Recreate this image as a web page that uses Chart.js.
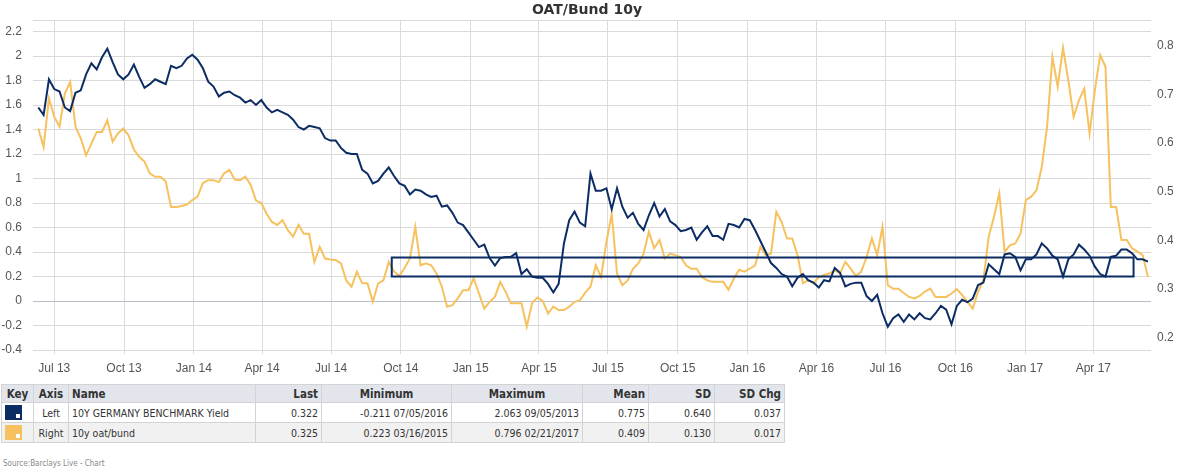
<!DOCTYPE html>
<html>
<head>
<meta charset="utf-8">
<title>OAT/Bund 10y</title>
<script src="https://cdn.jsdelivr.net/npm/chart.js@4.4.1/dist/chart.umd.min.js"></script>
<style>
  body { margin: 0; background: #fff; width: 1200px; height: 474px; overflow: hidden; position: relative; }
  #chart-wrap { position: absolute; left: 0; top: 0; width: 1200px; height: 376px; }
  #stats { position: absolute; left: 1px; top: 384px; border-collapse: collapse; table-layout: fixed;
           font-family: "DejaVu Sans Condensed", "DejaVu Sans", sans-serif; font-size: 10.5px; color: #333; }
  #stats th, #stats td { border: 1px solid #d3d3d3; padding: 0 3px; white-space: nowrap; overflow: hidden; }
  #stats th { background: #e2e5ec; font-weight: bold; font-size: 11.5px; height: 17px; text-align: right; }
  #stats td { height: 19px; text-align: right; }
  #stats tbody tr:nth-child(2) td { background: #f1f1f1; }
  #stats .c { text-align: center; }
  #stats .l { text-align: left; }
  .key { width: 17px; height: 15px; position: relative; }
  .key::after { content: ''; position: absolute; right: 2px; bottom: 2px; width: 4px; height: 4px; background: #fff; }
  #source { position: absolute; left: 3px; top: 459px; font-family: "DejaVu Sans Condensed", sans-serif; font-size: 8px; color: #888; }
</style>
</head>
<body>
<div id="chart-wrap"><canvas id="oatChart"></canvas></div>
<table id="stats">
  <colgroup>
    <col style="width:32px"><col style="width:35px"><col style="width:187px"><col style="width:66px">
    <col style="width:130px"><col style="width:131px"><col style="width:66px"><col style="width:66px"><col style="width:70px">
  </colgroup>
  <thead>
    <tr><th class="c">Key</th><th class="c">Axis</th><th class="l">Name</th><th>Last</th><th class="c">Minimum</th><th class="c">Maximum</th><th>Mean</th><th>SD</th><th>SD Chg</th></tr>
  </thead>
  <tbody id="stats-body"></tbody>
</table>
<div id="source">Source:Barclays Live - Chart</div>

<script>
// weekly observations, first one on this date
const startDate = '2013-06-10';

// 10Y Germany benchmark yield (left axis)
const bundYield = [
  1.58, 1.52, 1.81, 1.73, 1.71, 1.58, 1.55, 1.70, 1.72, 1.85,
  1.94, 1.89, 1.99, 2.06, 1.95, 1.85, 1.81, 1.85, 1.93, 1.83,
  1.74, 1.77, 1.81, 1.79, 1.77, 1.92, 1.90, 1.92, 1.98, 2.01,
  1.97, 1.90, 1.79, 1.75, 1.67, 1.70, 1.71, 1.68, 1.66, 1.62,
  1.64, 1.60, 1.64, 1.58, 1.54, 1.56, 1.54, 1.52, 1.48, 1.42,
  1.40, 1.43, 1.42, 1.41, 1.33, 1.31, 1.31, 1.25, 1.21, 1.20,
  1.20, 1.07, 1.04, 0.96, 0.98, 1.04, 1.09, 1.02, 0.96, 0.94,
  0.87, 0.91, 0.90, 0.87, 0.85, 0.86, 0.77, 0.78, 0.72, 0.64,
  0.62, 0.56, 0.50, 0.44, 0.46, 0.35, 0.29, 0.35, 0.36, 0.36,
  0.39, 0.22, 0.26, 0.20, 0.19, 0.19, 0.14, 0.07, 0.14, 0.47,
  0.66, 0.73, 0.64, 0.61, 1.04, 0.90, 0.90, 0.92, 0.75, 0.92,
  0.77, 0.68, 0.72, 0.63, 0.58, 0.70, 0.80, 0.69, 0.75, 0.65,
  0.62, 0.57, 0.58, 0.60, 0.50, 0.56, 0.61, 0.53, 0.53, 0.50,
  0.63, 0.62, 0.60, 0.67, 0.66, 0.58, 0.49, 0.40, 0.31, 0.27,
  0.22, 0.20, 0.12, 0.19, 0.22, 0.17, 0.15, 0.11, 0.17, 0.16,
  0.27, 0.23, 0.12, 0.14, 0.15, 0.15, 0.04, 0.00, 0.05, -0.10,
  -0.21, -0.14, -0.11, -0.17, -0.11, -0.15, -0.10, -0.14, -0.15, -0.10,
  -0.04, -0.07, -0.19, -0.04, 0.01, -0.01, 0.02, 0.13, 0.15, 0.30,
  0.26, 0.22, 0.38, 0.39, 0.36, 0.25, 0.34, 0.34, 0.38, 0.47,
  0.43, 0.37, 0.34, 0.20, 0.34, 0.38, 0.46, 0.42, 0.37, 0.28,
  0.22, 0.20, 0.36, 0.37, 0.42, 0.42, 0.39, 0.34, 0.34, 0.322
];

// 10y OAT/Bund spread (right axis)
const oatBund = [
  0.630, 0.592, 0.692, 0.654, 0.634, 0.702, 0.726, 0.634, 0.610, 0.575,
  0.599, 0.623, 0.623, 0.647, 0.603, 0.620, 0.630, 0.616, 0.587, 0.572,
  0.562, 0.538, 0.531, 0.531, 0.521, 0.469, 0.469, 0.471, 0.474, 0.483,
  0.490, 0.518, 0.524, 0.524, 0.520, 0.538, 0.545, 0.525, 0.524, 0.531,
  0.514, 0.482, 0.477, 0.455, 0.438, 0.432, 0.442, 0.421, 0.408, 0.432,
  0.414, 0.414, 0.356, 0.387, 0.363, 0.361, 0.360, 0.353, 0.318, 0.305,
  0.336, 0.312, 0.312, 0.274, 0.312, 0.318, 0.356, 0.336, 0.327, 0.344,
  0.363, 0.428, 0.349, 0.353, 0.349, 0.332, 0.305, 0.264, 0.267, 0.281,
  0.298, 0.298, 0.322, 0.291, 0.260, 0.274, 0.284, 0.315, 0.295, 0.271,
  0.271, 0.271, 0.223, 0.271, 0.283, 0.276, 0.250, 0.264, 0.257, 0.257,
  0.264, 0.274, 0.277, 0.293, 0.305, 0.349, 0.325, 0.397, 0.455, 0.332,
  0.308, 0.318, 0.342, 0.353, 0.373, 0.418, 0.384, 0.401, 0.363, 0.373,
  0.370, 0.366, 0.349, 0.342, 0.342, 0.325, 0.318, 0.315, 0.315, 0.315,
  0.299, 0.322, 0.340, 0.336, 0.342, 0.349, 0.387, 0.370, 0.373, 0.459,
  0.438, 0.404, 0.404, 0.370, 0.312, 0.318, 0.312, 0.325, 0.329, 0.332,
  0.339, 0.332, 0.356, 0.342, 0.327, 0.336, 0.366, 0.404, 0.370, 0.428,
  0.308, 0.301, 0.301, 0.292, 0.284, 0.281, 0.286, 0.295, 0.301, 0.284,
  0.284, 0.284, 0.291, 0.300, 0.288, 0.274, 0.260, 0.295, 0.318, 0.408,
  0.449, 0.497, 0.377, 0.390, 0.394, 0.414, 0.483, 0.490, 0.503, 0.551,
  0.634, 0.777, 0.716, 0.796, 0.729, 0.654, 0.688, 0.712, 0.620, 0.709,
  0.781, 0.757, 0.469, 0.469, 0.401, 0.401, 0.384, 0.377, 0.370, 0.325
];

const tickDates = ['2013-07-01', '2013-10-01', '2014-01-01', '2014-04-01', '2014-07-01', '2014-10-01',
  '2015-01-01', '2015-04-01', '2015-07-01', '2015-10-01', '2016-01-01', '2016-04-01',
  '2016-07-01', '2016-10-01', '2017-01-01', '2017-04-01'];
const tickLabels = ['Jul 13', 'Oct 13', 'Jan 14', 'Apr 14', 'Jul 14', 'Oct 14', 'Jan 15', 'Apr 15',
  'Jul 15', 'Oct 15', 'Jan 16', 'Apr 16', 'Jul 16', 'Oct 16', 'Jan 17', 'Apr 17'];
const leftTicks = [-0.4, -0.2, 0, 0.2, 0.4, 0.6, 0.8, 1, 1.2, 1.4, 1.6, 1.8, 2, 2.2];
const rightTicks = [0.2, 0.3, 0.4, 0.5, 0.6, 0.7, 0.8];
const xRange = ['2013-06-03', '2017-06-16'];
const leftRange = [-0.4, 2.294];
const rightRange = [0.175, 0.853];

// highlighted range box
const boxDates = ['2014-09-19', '2017-05-24'];
const boxLevels = [0.2, 0.355];

// stats table
const keyColors = ['#0c2c64', '#f6c15e'];
const axisNames = ['Left', 'Right'];
const seriesNames = ['10Y GERMANY BENCHMARK Yield', '10y oat/bund'];
const lastVals = ['0.322', '0.325'];
const minVals = ['-0.211 07/05/2016', '0.223 03/16/2015'];
const maxVals = ['2.063 09/05/2013', '0.796 02/21/2017'];
const meanVals = ['0.775', '0.409'];
const sdVals = ['0.640', '0.130'];
const sdChgVals = ['0.037', '0.017'];

function dayOf(s) {
  const p = s.split('-').map(Number);
  return Date.UTC(p[0], p[1] - 1, p[2]) / 86400000;
}

const day0 = dayOf(startDate);
const bundPoints = bundYield.map((v, i) => ({ x: day0 + 7 * i, y: v }));
const oatPoints = oatBund.map((v, i) => ({ x: day0 + 7 * i, y: v }));

const tickFont = { family: 'Liberation Sans, Arial, sans-serif', size: 12 };

// fixed axis sizes so the plot area sits where the original one does
function fixWidth(w) {
  return axis => { axis.width = w; axis.paddingTop = 0; axis.paddingBottom = 0; };
}

const frameAndBox = {
  id: 'frameAndBox',
  beforeDatasetsDraw(chart) {
    const a = chart.chartArea, ctx = chart.ctx;
    ctx.save();
    ctx.strokeStyle = '#dadada';
    ctx.lineWidth = 1;
    ctx.beginPath();
    ctx.moveTo(a.left, Math.round(a.top) + 0.5);
    ctx.lineTo(a.right, Math.round(a.top) + 0.5);
    ctx.stroke();
    ctx.restore();
  },
  afterDatasetsDraw(chart) {
    const x = chart.scales.x, y = chart.scales.y, ctx = chart.ctx;
    const x0 = x.getPixelForValue(dayOf(boxDates[0]));
    const x1 = x.getPixelForValue(dayOf(boxDates[1]));
    const y0 = y.getPixelForValue(boxLevels[1]);
    const y1 = y.getPixelForValue(boxLevels[0]);
    ctx.save();
    ctx.strokeStyle = '#0c2c64';
    ctx.lineWidth = 2;
    ctx.strokeRect(x0, y0, x1 - x0, y1 - y0);
    ctx.restore();
  }
};

new Chart(document.getElementById('oatChart'), {
  type: 'line',
  data: {
    datasets: [
      { label: seriesNames[0], data: bundPoints, yAxisID: 'y', borderColor: keyColors[0],
        borderWidth: 2, pointRadius: 0, tension: 0, fill: false },
      { label: seriesNames[1], data: oatPoints, yAxisID: 'y2', borderColor: keyColors[1],
        borderWidth: 2, pointRadius: 0, tension: 0, fill: false }
    ]
  },
  options: {
    responsive: true,
    maintainAspectRatio: false,
    animation: false,
    layout: { padding: { left: 1, right: 27, top: 0, bottom: 0 } },
    plugins: {
      legend: { display: false },
      tooltip: { enabled: false },
      title: {
        display: true,
        text: 'OAT/Bund 10y',
        color: '#333',
        font: { family: 'DejaVu Sans, sans-serif', size: 14, weight: 'bold' },
        padding: { top: 2, bottom: 1.2 }
      }
    },
    scales: {
      x: {
        type: 'linear',
        min: dayOf(xRange[0]),
        max: dayOf(xRange[1]),
        afterBuildTicks: axis => { axis.ticks = tickDates.map(d => ({ value: dayOf(d) })); },
        afterFit: axis => { axis.height = 26; axis.paddingLeft = 0; axis.paddingRight = 0; },
        ticks: {
          autoSkip: false, maxRotation: 0, padding: 7, color: '#555', font: tickFont,
          callback: (v, i) => tickLabels[i]
        },
        grid: { color: '#dadada', tickLength: 4, drawTicks: true },
        border: { display: false }
      },
      y: {
        position: 'left',
        min: leftRange[0],
        max: leftRange[1],
        afterBuildTicks: axis => { axis.ticks = leftTicks.map(v => ({ value: v })); },
        afterFit: fixWidth(32),
        ticks: { padding: 11, color: '#555', font: tickFont, callback: v => String(v) },
        grid: { drawTicks: false, color: c => (c.tick && c.tick.value === 0 ? '#b7bec8' : '#dadada') },
        border: { display: false }
      },
      y2: {
        position: 'right',
        min: rightRange[0],
        max: rightRange[1],
        afterBuildTicks: axis => { axis.ticks = rightTicks.map(v => ({ value: v })); },
        afterFit: fixWidth(22),
        ticks: { padding: 6, color: '#555', font: tickFont, callback: v => v.toFixed(1) },
        grid: { display: false, drawTicks: false },
        border: { display: false }
      }
    }
  },
  plugins: [frameAndBox]
});

// fill the stats table
const body = document.getElementById('stats-body');
seriesNames.forEach((name, i) => {
  const tr = document.createElement('tr');
  tr.innerHTML = `
    <td class="l"><div class="key" style="background:${keyColors[i]}"></div></td>
    <td class="c">${axisNames[i]}</td>
    <td class="l">${name}</td>
    <td>${lastVals[i]}</td>
    <td>${minVals[i]}</td>
    <td>${maxVals[i]}</td>
    <td>${meanVals[i]}</td>
    <td>${sdVals[i]}</td>
    <td>${sdChgVals[i]}</td>`;
  body.appendChild(tr);
});
</script>
</body>
</html>
